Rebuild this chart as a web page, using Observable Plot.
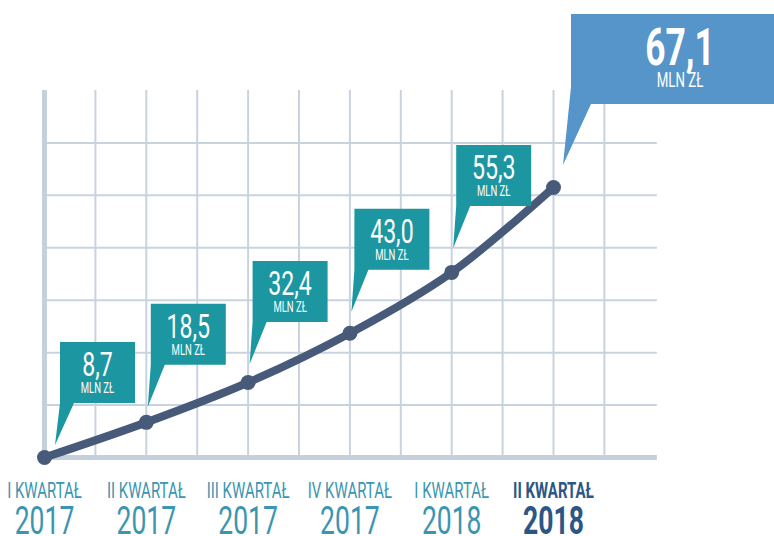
<!DOCTYPE html>
<html>
<head>
<meta charset="utf-8">
<script src="https://cdn.jsdelivr.net/npm/d3@7"></script>
<script src="https://cdn.jsdelivr.net/npm/@observablehq/plot@0.6"></script>
<style>
  html, body { margin: 0; padding: 0; background: #ffffff; }
  #chart svg { display: block; }
</style>
</head>
<body>
<div id="chart"></div>
<script>
// ---- data ----
const quarters = ["I KWARTAŁ", "II KWARTAŁ", "III KWARTAŁ", "IV KWARTAŁ", "I KWARTAŁ", "II KWARTAŁ"];
const years = ["2017", "2017", "2017", "2017", "2018", "2018"];
const values = [8.7, 18.5, 32.4, 43.0, 55.3, 67.1];
const valueLabels = ["8,7", "18,5", "32,4", "43,0", "55,3", "67,1"];
const unitLabel = "MLN ZŁ";
// height of the illustrative curve, in grid rows
const curveLevel = [0, 0.67, 1.43, 2.37, 3.53, 5.15];
const gridRows = [1, 2, 3, 4, 5, 6];
const gridCols = [0.5, 1, 1.5, 2, 2.5, 3, 3.5, 4, 4.5, 5, 5.5];

const data = quarters.map((q, i) => ({
  i, quarter: q, year: years[i], value: values[i], label: valueLabels[i], level: curveLevel[i],
  last: i === quarters.length - 1
}));

const FONT = "Roboto, 'Liberation Sans', sans-serif";
const SQUEEZE = 0.68;   // horizontal condensing of all texts (condensed display face look)
const GRID = "#c9d3e0";
const LINE = "#475a79";
const TEAL = "#1c96a0";
const BLUE = "#5595c9";
const LABEL = "#3b95b1";
const DARK = "#2c5685";

// callout bubbles, positioned through the plot's scales
function callouts(index, scales, values_, dimensions) {
  const g = d3.create("svg:g");
  data.forEach((d, i) => {
    const x = scales.x(d.i);
    const y = scales.y(d.level);
    if (!d.last) {
      const left = x + (i === 0 ? 16 : 5);
      const bottom = y - (54 + 3 * i);
      const top = bottom - 61;
      const w = 75;
      const tipX = x + (i === 0 ? 11 : 2);
      const tipY = y - (12 + 3 * i);
      g.append("path")
        .attr("d", `M${left},${top}H${left + w}V${bottom}H${left + 14}L${tipX},${tipY}L${left},${bottom}Z`)
        .attr("fill", TEAL);
      g.append("text")
        .attr("x", left + w / 2).attr("y", top + 34)
        .attr("text-anchor", "middle")
        .attr("font-family", FONT)
        .attr("font-size", 34).attr("fill", "#ffffff")
        .text(d.label);
      g.append("text")
        .attr("x", left + w / 2).attr("y", top + 51)
        .attr("text-anchor", "middle")
        .attr("font-family", FONT)
        .attr("font-size", 14).attr("fill", "#ffffff")
        .text(unitLabel);
    } else {
      const left = x + 18;
      const top = y - 173;
      const bottom = y - 83;
      const right = dimensions.width;
      const tipX = x + 10;
      const tipY = y - 22;
      g.append("path")
        .attr("d", `M${left},${top}H${right}V${bottom}H${left + 20}L${tipX},${tipY}L${left},${bottom - 17}Z`)
        .attr("fill", BLUE);
      g.append("text")
        .attr("x", left + 109).attr("y", top + 51)
        .attr("text-anchor", "middle")
        .attr("font-family", FONT)
        .attr("font-weight", "bold")
        .attr("font-size", 52).attr("fill", "#ffffff")
        .text(d.label);
      g.append("text")
        .attr("x", left + 109).attr("y", top + 73)
        .attr("text-anchor", "middle")
        .attr("font-family", FONT)
        .attr("font-size", 19.5).attr("fill", "#ffffff")
        .text(unitLabel);
    }
  });
  return g.node();
}

const regular = data.filter(d => !d.last);
const lastOne = data.filter(d => d.last);

const chart = Plot.plot({
  width: 774,
  height: 536,
  marginLeft: 44,
  marginRight: 121,
  marginTop: 90,
  marginBottom: 79,
  style: { background: "#ffffff", overflow: "visible", fontFamily: FONT },
  x: { domain: [0, 5], range: [44, 553], axis: null },
  y: { domain: [0, 7], axis: null },
  marks: [
    Plot.ruleY(gridRows, { x1: 0, x2: 6.02, stroke: GRID, strokeWidth: 2 }),
    Plot.ruleX(gridCols, { y1: 0, y2: 7, stroke: GRID, strokeWidth: 2 }),
    Plot.ruleX([0], { y1: -0.06, y2: 7, stroke: "#c6d0dd", strokeWidth: 5 }),
    Plot.ruleY([0], { x1: -0.02, x2: 6.02, stroke: "#c6d0dd", strokeWidth: 5 }),
    Plot.line(data, { x: "i", y: "level", stroke: LINE, strokeWidth: 8, curve: "catmull-rom", strokeLinecap: "round" }),
    Plot.dot(data, { x: "i", y: "level", r: 7.5, fill: LINE, stroke: null }),
    callouts,
    Plot.text(regular, {
      x: "i", y: () => 0, text: "quarter", dy: 40, lineAnchor: "bottom", textAnchor: "middle",
      fontSize: 22, fontFamily: FONT, fill: LABEL
    }),
    Plot.text(regular, {
      x: "i", y: () => 0, text: "year", dy: 76, lineAnchor: "bottom", textAnchor: "middle",
      fontSize: 39, fontFamily: FONT, fill: LABEL
    }),
    Plot.text(lastOne, {
      x: "i", y: () => 0, text: "quarter", dy: 40, lineAnchor: "bottom", textAnchor: "middle",
      fontSize: 22, fontFamily: FONT, fontWeight: "bold", fill: DARK
    }),
    Plot.text(lastOne, {
      x: "i", y: () => 0, text: "year", dy: 76, lineAnchor: "bottom", textAnchor: "middle",
      fontSize: 39, fontFamily: FONT, fontWeight: "bold", fill: DARK
    })
  ]
});

document.getElementById("chart").appendChild(chart);

// condense every text horizontally, like the reference's narrow display face
d3.select(chart).selectAll("text").each(function () {
  const len = this.getComputedTextLength();
  if (len > 0) {
    this.setAttribute("textLength", (len * SQUEEZE).toFixed(1));
    this.setAttribute("lengthAdjust", "spacingAndGlyphs");
  }
});
</script>
</body>
</html>
